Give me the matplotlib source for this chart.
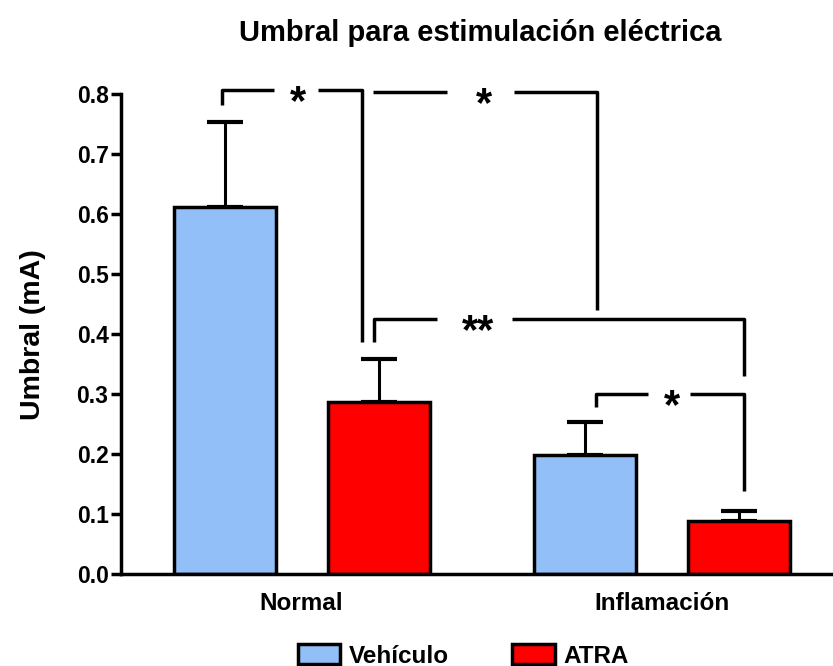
import matplotlib
matplotlib.use("Agg")
import matplotlib.pyplot as plt
from matplotlib.patches import Patch

plt.rcParams['font.family'] = ['Liberation Sans', 'DejaVu Sans']
plt.rcParams['font.weight'] = 'bold'

# Data
groups = ["Normal", "Inflamación"]
series = ["Vehículo", "ATRA"]
means_vehiculo = [0.612, 0.199]
means_atra = [0.287, 0.089]
sem_vehiculo = [0.142, 0.054]
sem_atra = [0.071, 0.017]
colors = ["#92BFF8", "#FF0000"]

fig = plt.figure(figsize=(8.33, 6.66), dpi=100)
ax = fig.add_axes([121 / 833, 0.1377, 1 - 121 / 833, 0.8589 - 0.1377])

group_centers = [0.755, 4.29]
offset = 0.755
width = 1.0

for i, (means, sems, color) in enumerate(zip([means_vehiculo, means_atra],
                                             [sem_vehiculo, sem_atra], colors)):
    xs = [c + (2 * i - 1) * offset for c in group_centers]
    ax.bar(xs, means, width=width, color=color, edgecolor="black",
           linewidth=2.5, zorder=2)
    ax.errorbar(xs, means, yerr=[[0] * len(means), sems], fmt="none",
                ecolor="black", elinewidth=2.2, capsize=13, capthick=3,
                zorder=1)

ax.set_xlim(-1.015, 5.966)
ax.set_ylim(0, 0.8)
ax.set_yticks([0.0, 0.1, 0.2, 0.3, 0.4, 0.5, 0.6, 0.7, 0.8])
ax.set_yticklabels([f"{v:.1f}" for v in ax.get_yticks()])
ax.set_xticks(group_centers)
ax.set_xticklabels(groups, fontsize=17.5, fontweight="bold")
ax.tick_params(axis="x", length=0, pad=13)
ax.tick_params(axis="y", length=7, width=2.5, labelsize=16.5, pad=2)
for s in ["top", "right"]:
    ax.spines[s].set_visible(False)
for s in ["left", "bottom"]:
    ax.spines[s].set_linewidth(2.5)

ax.set_ylabel("Umbral (mA)", fontsize=20.5, fontweight="bold", labelpad=22)
fig.text(0.577, 0.951, "Umbral para estimulación eléctrica", ha="center",
         va="center", fontsize=21, fontweight="bold")

# Significance brackets with a gap for the star label
def bracket(x0, x1, y, y0, y1, gap0, gap1, label, star_x):
    kw = dict(color="black", lw=2.5, clip_on=False, solid_capstyle="butt")
    ax.plot([x0, x0, gap0], [y0, y, y], **kw)
    ax.plot([gap1, x1, x1], [y, y, y1], **kw)
    ax.text(star_x, y - 0.022, label, ha="center", va="center",
            fontsize=30, fontweight="bold", clip_on=False)

bracket(-0.025, 1.35, 0.807, 0.782, 0.387, 0.485, 0.917, "*", 0.72)
bracket(1.456, 3.65, 0.804, 0.804, 0.440, 2.18, 2.84, "*", 2.54)
bracket(1.466, 5.09, 0.426, 0.387, 0.330, 2.08, 2.82, "**", 2.485)
bracket(3.64, 5.09, 0.300, 0.278, 0.139, 4.15, 4.56, "*", 4.39)

handles = [Patch(facecolor=c, edgecolor="black", linewidth=2.5) for c in colors]
fig.legend(handles, series, loc="center", bbox_to_anchor=(0.556, 0.015),
           ncol=2, frameon=False, handlelength=1.75,
           handleheight=0.85, handletextpad=0.35, columnspacing=2.6,
           prop={"weight": "bold", "size": 17.5})

fig.savefig("out.png", dpi=100)
